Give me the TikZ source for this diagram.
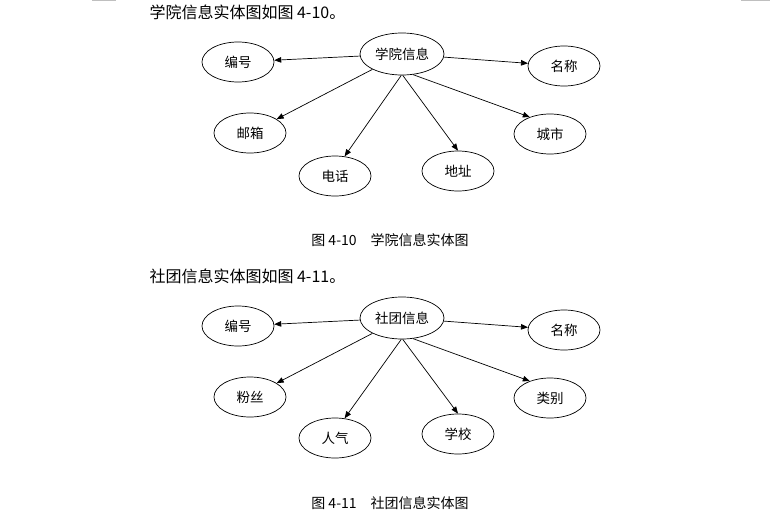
\documentclass[tikz,border=0pt]{standalone}
\usepackage{fontspec}
\newfontfamily\cjk{Noto Sans CJK SC}
\usetikzlibrary{arrows.meta,shapes.geometric}

\begin{document}
\begin{tikzpicture}[
    x=1pt, y=-1pt,
    >={Triangle[length=7pt,width=5.5pt]},
    ent/.style={ellipse,draw,line width=0.7pt,minimum width=84pt,
        minimum height=42pt,inner sep=0pt,font=\cjk\fontsize{13.5}{15}\selectfont},
    attr/.style={ent,minimum width=72pt,minimum height=40pt},
    rel/.style={->,line width=0.7pt},
    heading/.style={anchor=west,font=\cjk\fontsize{16}{18}\selectfont},
    caption/.style={font=\cjk\fontsize{14}{16}\selectfont},
]
\useasboundingbox (0,0) rectangle (784,514);

% Page marks
\draw[gray!50,line width=1.5pt] (92,0.7) -- (116,0.7);
\draw[gray!50,line width=1.5pt] (741,0.7) -- (770,0.7);

% First diagram
\node[heading] (t1) at (146,12) {学院信息实体图如图 4-10。};
\node[ent]  (xy) at (402,54)  {学院信息};
\node[attr] (bh) at (238,62)  {编号};
\node[attr] (mc) at (564,66)  {名称};
\node[attr] (yx) at (250,133) {邮箱};
\node[attr] (cs) at (550,134) {城市};
\node[attr] (dh) at (335,176) {电话};
\node[attr] (dz) at (458,171) {地址};
\foreach \s/\t in {xy/bh, xy/mc, xy/yx, xy.-62/cs.140, xy.268/dh.64, xy.272/dz.north}
    \draw[rel] (\s) -- (\t);
\node[caption] (c1) at (390,240) {图 4-10\quad 学院信息实体图};

% Second diagram
\node[heading] (t2) at (146,276) {社团信息实体图如图 4-11。};
\node[ent]  (st)  at (402,318) {社团信息};
\node[attr] (bh2) at (238,326) {编号};
\node[attr] (mc2) at (564,330) {名称};
\node[attr] (fs)  at (250,397) {粉丝};
\node[attr] (lb)  at (550,398) {类别};
\node[attr] (rq)  at (335,438) {人气};
\node[attr] (xx)  at (458,434) {学校};
\foreach \s/\t in {st/bh2, st/mc2, st/fs, st.-62/lb.140, st.268/rq.64, st.272/xx.north}
    \draw[rel] (\s) -- (\t);
\node[caption] (c2) at (390,503) {图 4-11\quad 社团信息实体图};
\end{tikzpicture}
\end{document}
